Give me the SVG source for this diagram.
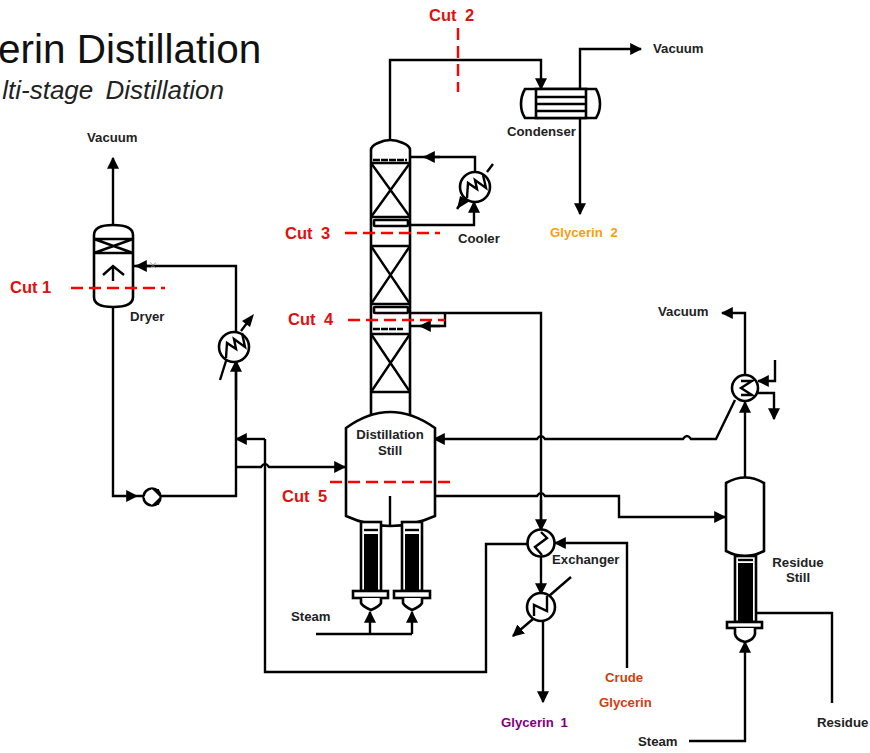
<svg xmlns="http://www.w3.org/2000/svg" width="870" height="753" viewBox="0 0 870 753">
<style>
text{font-family:"Liberation Sans",Arial,sans-serif}
.l{font-size:13.2px;font-weight:bold;fill:#222}
.c{font-size:16.5px;font-weight:bold;fill:#e01010}
.s{fill:none;stroke:#000;stroke-width:2.4}
.e{fill:#fff;stroke:#000;stroke-width:2.6}
.cut{fill:none;stroke:#f00;stroke-width:2.4;stroke-dasharray:12 6}
</style>
<defs>
<marker id="a" viewBox="0 0 10 10" refX="9" refY="5" markerWidth="12" markerHeight="12" markerUnits="userSpaceOnUse" orient="auto"><path d="M0 0L10 5L0 10Z" fill="#000"/></marker>
</defs>
<text x="-2" y="63" font-size="40.5" fill="#111">erin Distillation</text>
<text x="224" y="99" text-anchor="end" font-size="26" font-style="italic" fill="#222" word-spacing="5">lti-stage Distillation</text>
<g id="connectors">
<path class="s" marker-end="url(#a)" d="M390 139V60H541V89"/>
<path class="s" marker-end="url(#a)" d="M580 89V49H641"/>
<path class="s" marker-end="url(#a)" d="M580 118V214"/>
<path class="s" d="M475 172V157H410"/>
<path class="s" marker-end="url(#a)" d="M440 157H424"/>
<path class="s" marker-end="url(#a)" d="M410 225H474V202"/>
<path class="s" marker-end="url(#a)" d="M113 225V158"/>
<path class="s" marker-end="url(#a)" d="M113 306V496H137"/>
<path class="s" d="M137 496H143M161 496H236V361"/>
<path class="s" marker-end="url(#a)" d="M236 400V361"/>
<path class="s" d="M236 334V266H113"/>
<path class="s" marker-end="url(#a)" d="M150 266H136"/>
<path class="s" marker-end="url(#a)" d="M265 439H236"/>
<path class="s" d="M265 439V672H486V544H527"/>
<path class="s" marker-end="url(#a)" d="M236 467H261Q265 461 269 467H345"/>
<path class="s" d="M410 313H541V530"/>
<path class="s" d="M445 313V326H374"/>
<path class="s" marker-end="url(#a)" d="M440 326H420"/>
<path class="s" marker-end="url(#a)" d="M541 500V530"/>
<path class="s" marker-end="url(#a)" d="M627 668V543H555"/>
<path class="s" marker-end="url(#a)" d="M541 556V594"/>
<path class="s" marker-end="url(#a)" d="M543 621V702"/>
<path class="s" d="M549 596L571 577"/>
<path class="s" marker-end="url(#a)" d="M533 619L513 636"/>
<path class="s" d="M435 496H537Q541 490 545 496H619V517H690"/>
<path class="s" marker-end="url(#a)" d="M690 517H725"/>
<path class="s" marker-end="url(#a)" d="M745 477V402"/>
<path class="s" marker-end="url(#a)" d="M745 376V313H722"/>
<path class="s" marker-end="url(#a)" d="M735 400L716 439H691Q687 433 683 439H545Q541 433 537 439H434"/>
<path class="s" marker-end="url(#a)" d="M775 360V381H758"/>
<path class="s" marker-end="url(#a)" d="M757 393H774V419"/>
<path class="s" d="M755 613H832V703"/>
<path class="s" marker-end="url(#a)" d="M689 741H745V642"/>
<path class="s" d="M316 634H412"/>
<path class="s" marker-end="url(#a)" d="M370 634V612"/>
<path class="s" marker-end="url(#a)" d="M412 634V612"/>
</g>
<g id="col">
<path class="e" d="M371 418V150Q371 146 378 143Q390 137 403 143Q410 146 410 150V418"/>
<path class="s" d="M371 163H410M371 217H410M371 246H410M371 304H410M371 334H410M371 392H410"/>
<path class="s" d="M371 163L410 217M410 163L371 217M371 246L410 304M410 246L371 304M371 334L410 392M410 334L371 392"/>
<rect x="374" y="220" width="34" height="6" rx="1" class="e"/>
<rect x="374" y="307" width="34" height="6" rx="1" class="e"/>
<path class="s" stroke-dasharray="7 1" d="M373 160H407M373 329H403"/>
</g>
<g id="cooler"><circle cx="475" cy="187" r="15" class="e"/><path class="s" d="M467 198L468 183L477 189L475 180L486 188L483 175"/><path class="s" d="M487 172L493 164M465 197L457 209"/><path d="M457 209L460 196L470 201Z"/></g>
<g id="condenser"><path class="e" d="M525 89H596Q600 96 600 104Q600 112 596 118H525Q521 112 521 104Q521 96 525 89Z"/><rect x="536" y="89" width="50" height="29" class="e"/><path class="s" d="M536 97H586M536 104H586M536 111H586"/></g>
<g id="dryer"><path class="e" d="M94 297V235Q94 225 113 225Q133 225 133 235V297Q133 307 113 307Q94 307 94 297Z"/><path class="s" d="M94 239H133M94 253H133M94 239L133 253M133 239L94 253"/><path class="s" d="M113 281V266M103 275L113 266L124 275"/><path d="M150 262.500L153 265L156 262.500M150 268L153 265.500L156 268" fill="none" stroke="#888" stroke-width=".8"/></g>
<g id="pump"><circle cx="152" cy="497" r="8.500" class="e"/><path d="M152 489L160 497L152 505L144 497Z" fill="#fff"/><path d="M152 489H159L160 497ZM152 505H159L160 497Z" fill="#000"/></g>
<g id="heater"><circle cx="234" cy="347" r="15" class="e"/><path class="s" d="M226 358L227 343L236 349L234 339L245 347L242 333"/><path class="s" d="M226 361L220 380"/><path class="s" d="M241 331L250 319"/><path d="M254 314L250 327L242 321Z"/></g>
<g id="still"><path class="e" d="M346 428Q390 396 435 428V516Q390 536 346 516Z"/><path class="s" d="M390 496V526"/></g>
<g id="reb1"><rect x="361" y="522" width="20" height="69" class="e"/><path class="s" d="M364 530H378"/><rect x="364" y="534" width="14" height="57" fill="#000"/><rect x="353" y="591" width="35" height="7" class="e"/><path class="e" d="M361 598V603Q362 606 371 610Q380 606 381 603V598"/></g>
<g id="reb2"><rect x="402" y="522" width="20" height="69" class="e"/><path class="s" d="M405 530H419"/><rect x="405" y="534" width="14" height="57" fill="#000"/><rect x="394" y="591" width="36" height="7" class="e"/><path class="e" d="M403 598V603Q404 606 412 610Q421 606 422 603V598"/></g>
<g id="exch1"><circle cx="541" cy="543" r="13.500" class="e"/><path class="s" d="M541 532L547 538L535 547L542 555"/></g>
<g id="exch2"><circle cx="541" cy="607" r="14" class="e"/><path class="s" d="M534 616V605L547 611V596"/></g>
<g id="resC"><circle cx="745" cy="388" r="13" class="e"/><path class="s" d="M741 381H752L741 388L752 395H741"/></g>
<g id="resStill"><path class="e" d="M726 483Q745 472 764 483V551Q745 561 726 551Z"/><rect x="735" y="556" width="21" height="66" class="e"/><path class="s" d="M738 560H753"/><rect x="738" y="563" width="15" height="59" fill="#000"/><rect x="727" y="622" width="35" height="6" class="e"/><path class="e" d="M735 628V634Q736 640 745 642Q754 640 755 634V628"/></g>
<path class="cut" d="M71 288H165"/>
<path class="cut" d="M458 28V92"/>
<path class="cut" d="M345 233H440"/>
<path class="cut" d="M348 320H445"/>
<path class="cut" d="M330 482H456"/>
<text class="c" x="429" y="21" word-spacing="4">Cut 2</text>
<text class="c" x="10" y="293">Cut 1</text>
<text class="c" x="285" y="239" word-spacing="4">Cut 3</text>
<text class="c" x="288" y="325" word-spacing="4">Cut 4</text>
<text class="c" x="282" y="502" word-spacing="4">Cut 5</text>
<text class="l" x="87" y="142">Vacuum</text>
<text class="l" x="653" y="53">Vacuum</text>
<text class="l" x="658" y="316">Vacuum</text>
<text class="l" x="507" y="136">Condenser</text>
<text class="l" x="458" y="243">Cooler</text>
<text class="l" x="130" y="321">Dryer</text>
<text class="l" x="390" y="439" text-anchor="middle">Distillation</text>
<text class="l" x="390" y="455" text-anchor="middle">Still</text>
<text class="l" x="552" y="564">Exchanger</text>
<text class="l" x="798" y="567" text-anchor="middle">Residue</text>
<text class="l" x="798" y="582" text-anchor="middle">Still</text>
<text class="l" x="291" y="621">Steam</text>
<text class="l" x="638" y="746">Steam</text>
<text class="l" x="817" y="727">Residue</text>
<text class="l" x="550" y="237" style="fill:#f5a010" word-spacing="4">Glycerin 2</text>
<text class="l" x="605" y="682" style="fill:#d04010">Crude</text>
<text class="l" x="599" y="707" style="fill:#d04010">Glycerin</text>
<text class="l" x="501" y="727" style="fill:#800080" word-spacing="3">Glycerin 1</text>
</svg>
